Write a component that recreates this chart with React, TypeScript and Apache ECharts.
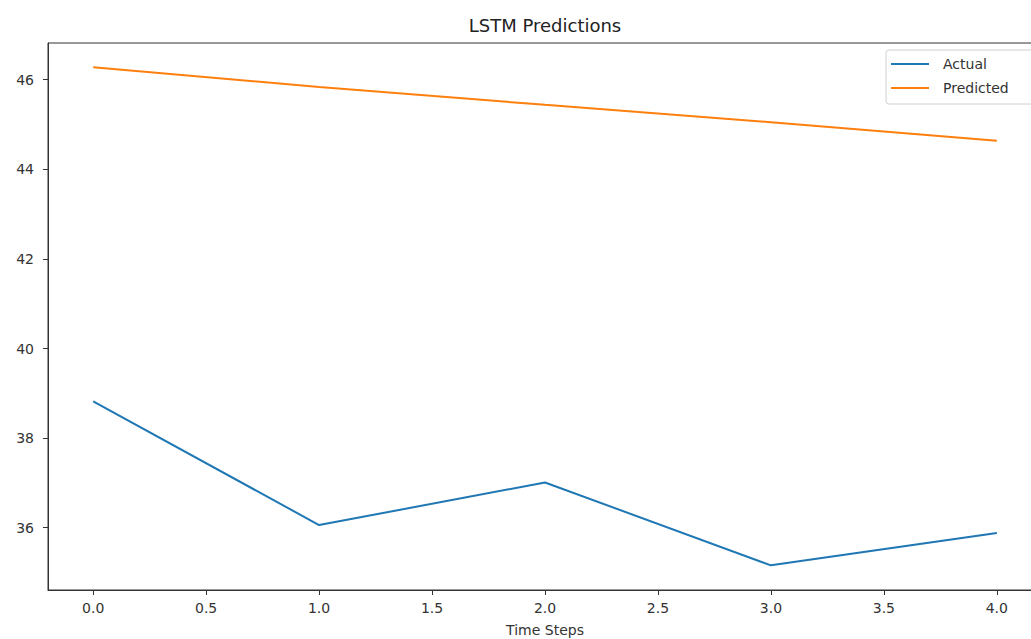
import React, { useEffect, useRef } from "react";
import * as echarts from "echarts";

const timeSteps = [0, 1, 2, 3, 4];
const actual = [38.82, 36.06, 37.01, 35.16, 35.88];
const predicted = [46.28, 45.84, 45.44, 45.05, 44.64];
const xTicks = [0, 0.5, 1, 1.5, 2, 2.5, 3, 3.5, 4];
const yTicks = [36, 38, 40, 42, 44, 46];

const FONT = "DejaVu Sans";

export default function App() {
  const ref = useRef<HTMLDivElement>(null);
  useEffect(() => {
    if (!ref.current) return;
    const chart = echarts.init(ref.current, undefined, { renderer: "svg" });
    const axisLine = { show: true, onZero: false, lineStyle: { color: "#333", width: 1 } };
    const tick = { show: true, length: 5, inside: false, lineStyle: { color: "#333" } };
    chart.setOption({
      animation: false,
      backgroundColor: "#fff",
      textStyle: { fontFamily: FONT },
      grid: {
        left: 48,
        top: 43,
        right: 18,
        bottom: 70,
        show: true,
        borderColor: "#333",
        borderWidth: 1,
        backgroundColor: "transparent",
      },
      xAxis: {
        type: "value",
        min: -0.2,
        max: 4.2,
        axisLine,
        splitLine: { show: false },
        axisTick: { ...tick, customValues: xTicks },
        axisLabel: {
          customValues: xTicks,
          formatter: (v: number) => v.toFixed(1),
          fontSize: 14,
          color: "#333",
          fontFamily: FONT,
          margin: 11,
        },
      },
      yAxis: {
        type: "value",
        min: 34.61,
        max: 46.82,
        axisLine,
        splitLine: { show: false },
        axisTick: { ...tick, customValues: yTicks },
        axisLabel: {
          customValues: yTicks,
          formatter: (v: number) => String(v),
          fontSize: 14,
          color: "#333",
          fontFamily: FONT,
          margin: 14,
        },
      },
      legend: {
        orient: "vertical",
        left: 886,
        top: 50,
        padding: [7, 100, 9, 5],
        icon: "rect",
        itemWidth: 38,
        itemHeight: 2,
        itemGap: 10,
        borderColor: "#d0d0d0",
        borderWidth: 1,
        borderRadius: 3,
        backgroundColor: "#fff",
        textStyle: { fontSize: 14, color: "#333", fontFamily: FONT, padding: [0, 0, 0, 9] },
        data: ["Actual", "Predicted"],
      },
      graphic: [
        {
          type: "text",
          x: 545,
          y: 25,
          style: {
            text: "LSTM Predictions",
            fontSize: 18,
            fontFamily: FONT,
            fill: "#222",
            textAlign: "center",
            textVerticalAlign: "middle",
          },
        },
        {
          type: "text",
          x: 545,
          y: 630,
          style: {
            text: "Time Steps",
            fontSize: 14,
            fontFamily: FONT,
            fill: "#333",
            textAlign: "center",
            textVerticalAlign: "middle",
          },
        },
      ],
      series: [
        {
          name: "Actual",
          type: "line",
          data: timeSteps.map((t, i) => [t, actual[i]]),
          symbol: "none",
          lineStyle: { color: "#1f77b4", width: 2 },
          itemStyle: { color: "#1f77b4" },
        },
        {
          name: "Predicted",
          type: "line",
          data: timeSteps.map((t, i) => [t, predicted[i]]),
          symbol: "none",
          lineStyle: { color: "#ff7f0e", width: 2 },
          itemStyle: { color: "#ff7f0e" },
        },
      ],
    });
    return () => chart.dispose();
  }, []);
  return (
    <div
      style={{
        position: "fixed",
        left: 0,
        top: 0,
        width: 1031,
        height: 639,
        overflow: "hidden",
        background: "#fff",
      }}
    >
      <div ref={ref} style={{ width: 1060, height: 660 }} />
    </div>
  );
}
